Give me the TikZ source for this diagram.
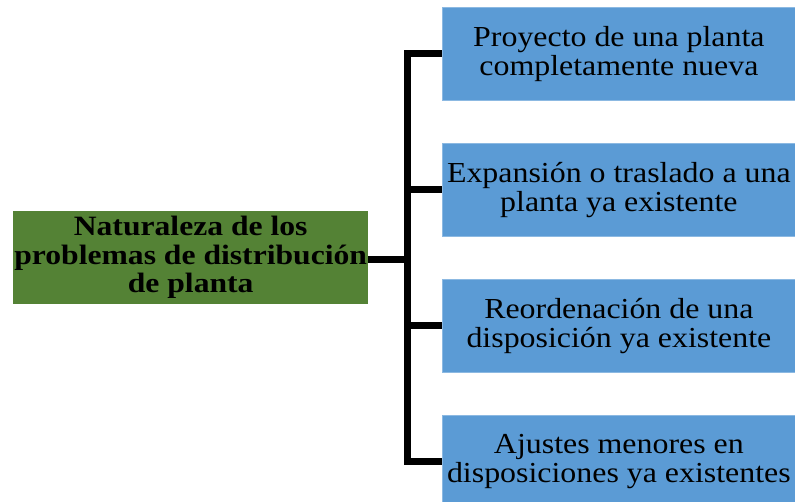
\documentclass[tikz,border=0pt]{standalone}
\usepackage{fontspec}
\setmainfont{Liberation Serif}
\newfontfamily\bluefont[FakeStretch=1.1]{Liberation Serif}
\newfontfamily\greenfont[FakeStretch=1.13]{Liberation Serif}
\definecolor{boxblue}{HTML}{5B9BD5}
\definecolor{boxgreen}{HTML}{548235}
\begin{document}
\begin{tikzpicture}[x=1pt,y=-1pt,
  bluebox/.style={fill=boxblue, draw=boxblue!70!white, line width=0.8pt, minimum width=353pt, minimum height=93pt,
    anchor=north west, inner sep=0pt, align=center, text=black,
    font=\bluefont\fontsize{29}{29}\selectfont},
  greenbox/.style={fill=boxgreen, minimum width=355pt, minimum height=93pt,
    anchor=north west, inner sep=0pt, align=center, text=black,
    font=\greenfont\bfseries\fontsize{28}{28.5}\selectfont},
  bracket/.style={line width=7pt, black}]
\clip (0,0) rectangle (795,501);
\fill[white] (0,0) rectangle (795,501);
\node[greenbox] (g) at (13,211) {Naturaleza de los\\problemas de distribución\\de planta};
\node[bluebox] (b1) at (442,7) {Proyecto de una planta\\completamente nueva};
\node[bluebox] (b2) at (442,143) {Expansión o traslado a una\\planta ya existente};
\node[bluebox] (b3) at (442,279) {Reordenación de una\\disposición ya existente};
\node[bluebox] (b4) at (442,415) {Ajustes menores en\\disposiciones ya existentes};
\coordinate (j) at (407,259);
\draw[bracket] (g.east |- j) -- (j);
\draw[bracket, line cap=rect] (j |- b1.west) -- (j |- b4.west);
\draw[bracket] (j |- b1.west) -- (b1.west);
\draw[bracket] (j |- b2.west) -- (b2.west);
\draw[bracket] (j |- b3.west) -- (b3.west);
\draw[bracket] (j |- b4.west) -- (b4.west);
\end{tikzpicture}
\end{document}
